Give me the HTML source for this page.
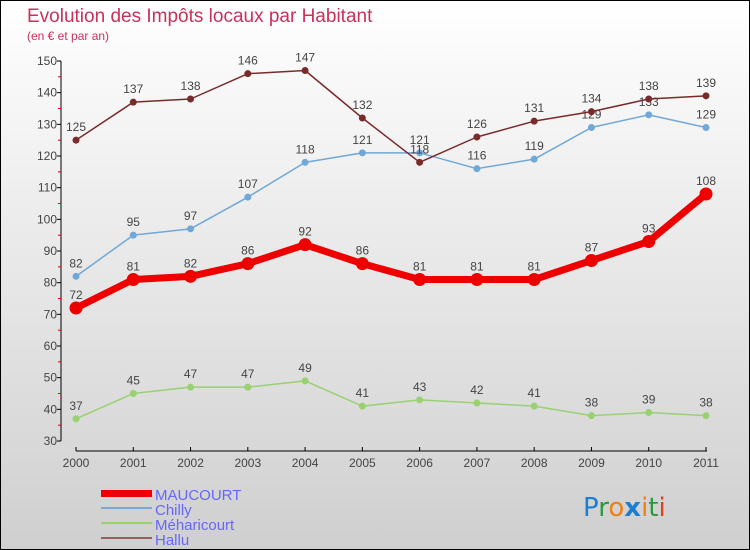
<!DOCTYPE html>
<html><head><meta charset="utf-8"><style>
body{margin:0}
#c{position:relative;width:748px;height:548px;border:1px solid #000;background:linear-gradient(#ffffff,#cfcfcf);overflow:hidden;font-family:"Liberation Sans",sans-serif}
</style></head><body>
<div id="c">
<svg id="s" width="748" height="548" style="position:absolute;left:0;top:0">
<text x="26" y="21" font-size="19" fill="#c8325a">Evolution des Impôts locaux par Habitant</text>
<text x="26" y="39" font-size="12" fill="#c8325a">(en € et par an)</text>
<g id="axes"></g><g id="series"></g>
<g>
<rect x="100" y="489" width="51" height="7" fill="#e00"/>
<text x="154" y="499" font-size="15" fill="#6666ff">MAUCOURT</text>
<rect x="100" y="506" width="51" height="2" fill="#7aa8d0"/>
<text x="154" y="514" font-size="15" fill="#6666ff">Chilly</text>
<rect x="100" y="521" width="51" height="2" fill="#99d070"/>
<text x="154" y="529" font-size="15" fill="#6666ff">Méharicourt</text>
<rect x="100" y="536" width="51" height="2" fill="#906060"/>
<text x="154" y="544" font-size="15" fill="#6666ff">Hallu</text>
</g>
<g font-size="26" font-family="DejaVu Sans, sans-serif">
<text x="582" y="515"><tspan fill="#1a7fd0">P</tspan><tspan fill="#2a9a40">r</tspan><tspan fill="#f08010">o</tspan><tspan fill="#1a7fd0" font-weight="bold">x</tspan><tspan fill="#f08010">i</tspan><tspan fill="#2a9a40">t</tspan><tspan fill="#e04020">i</tspan></text>
</g>
</svg>
</div>
<script>
const years=[2000,2001,2002,2003,2004,2005,2006,2007,2008,2009,2010,2011];
const maucourt=[72,81,82,86,92,86,81,81,81,87,93,108];
const chilly=[82,95,97,107,118,121,121,116,119,129,133,129];
const meharicourt=[37,45,47,47,49,41,43,42,41,38,39,38];
const hallu=[125,137,138,146,147,132,118,126,131,134,138,139];
const yTicks=[30,40,50,60,70,80,90,100,110,120,130,140,150];
const NS="http://www.w3.org/2000/svg";
const X=i=>75+i*(630/11);
const Y=v=>440-(v-30)*(380/120);
function mk(tag,attrs,parent){const e=document.createElementNS(NS,tag);for(const k in attrs)e.setAttribute(k,attrs[k]);parent.appendChild(e);return e;}
const ax=document.getElementById('axes');
let yl=mk('line',{x1:60,y1:60,x2:60,y2:440,stroke:'#000'},ax);


yTicks.forEach((t,i)=>{
 mk('line',{x1:56,y1:Y(t),x2:60,y2:Y(t),stroke:'#000'},ax);
 if(i<yTicks.length-1) mk('line',{x1:57,y1:Y(t+5),x2:60,y2:Y(t+5),stroke:'#d00'},ax);
 const tx=mk('text',{x:56,y:Y(t)+4,'font-size':12,fill:'#444','text-anchor':'end'},ax);
 tx.textContent=t;
 
 
});
let xl=mk('line',{x1:75,y1:450,x2:706,y2:450,stroke:'#000'},ax);


years.forEach((y,i)=>{
 mk('line',{x1:X(i),y1:446,x2:X(i),y2:450,stroke:'#000'},ax);
 const tx=mk('text',{x:X(i),y:466,'font-size':12,fill:'#444','text-anchor':'middle'},ax);
 tx.textContent=y;
 
 
});
const sg=document.getElementById('series');
function draw(name,data,color,w,r){
 const g=mk('g',{},sg);
 
 
 const pl=mk('polyline',{points:data.map((v,i)=>X(i)+','+Y(v)).join(' '),fill:'none',stroke:color,'stroke-width':w,'stroke-linejoin':'round'},g);
 
 
 data.forEach((v,i)=>{
  const c=mk('circle',{cx:X(i),cy:Y(v),r:r,fill:color},g);
  
  
  const t=mk('text',{x:X(i),y:Y(v)-9,'font-size':12,fill:'#444','text-anchor':'middle'},g);
  t.textContent=v;
  
  
 });
}
draw('meharicourt',meharicourt,'#99d070',1.5,3.5);
draw('chilly',chilly,'#70a8d8',1.5,3.5);
draw('hallu',hallu,'#7a2a2a',1.5,3.5);
draw('maucourt',maucourt,'#ee0000',7,6.5);
</script>
</body></html>
